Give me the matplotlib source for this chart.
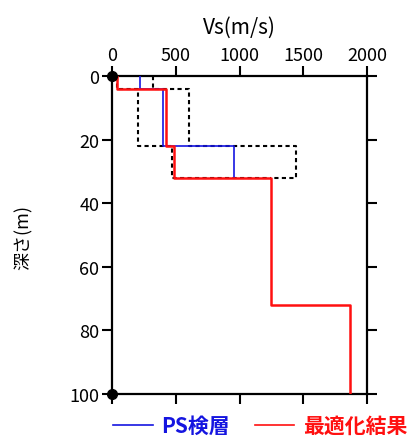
import matplotlib.pyplot as plt
from matplotlib.lines import Line2D

plt.rcParams['font.family'] = ['Noto Sans CJK JP', 'DejaVu Sans']

# layer boundaries (m) and Vs (m/s)
ps_depth = [0, 4, 22, 32]
ps_vs = [220, 400, 960]
opt_depth = [0, 4, 22, 32, 72, 100]
opt_vs = [40, 425, 485, 1250, 1870]
# search range (dotted), closes at 32 m onto the optimized layer
lim_depth = [0, 4, 22, 32]
lim_low = [40, 200, 470]
lim_high = [320, 600, 1440]

x_ticks = [0, 500, 1000, 1500, 2000]
y_ticks = [0, 20, 40, 60, 80, 100]


def stairs(depth, vs):
    xs, ys = [], []
    for i, v in enumerate(vs):
        xs += [v, v]
        ys += [depth[i], depth[i + 1]]
    return xs, ys


fig = plt.figure(figsize=(4.11, 4.39), dpi=100)
ax = fig.add_axes([0.2725, 0.1002, 0.6205, 0.7244])

for lim in (lim_low, lim_high):
    x, y = stairs(lim_depth, lim)
    x.append(opt_vs[3])
    y.append(lim_depth[-1])
    ax.plot(x, y, color='black', lw=1.5, ls=(0, (2, 1.6)), zorder=2)

x, y = stairs(ps_depth, ps_vs)
ax.plot(x, y, color='#1515e0', lw=1.2, zorder=3)
x, y = stairs(opt_depth, opt_vs)
ax.plot(x, y, color='#ff1010', lw=1.8, zorder=4)

# corner markers
ax.plot([0, 0], [0, 100], 'o', color='black', ms=7, clip_on=False, zorder=6)

ax.set_xlim(0, 2000)
ax.set_ylim(100, 0)
ax.set_xticks(x_ticks)
ax.set_yticks(y_ticks)
ax.tick_params(direction='out', length=7, width=1.5, labelsize=13,
               top=True, labeltop=True, bottom=True, labelbottom=False,
               right=True, labelright=False, pad=2)
ax.xaxis.set_label_position('top')
ax.set_xlabel('Vs(m/s)', fontsize=15, labelpad=9)
for s in ax.spines.values():
    s.set_linewidth(1.6)

fig.text(0.058, 0.46, '深さ(m)', rotation=90, fontsize=13, ha='center', va='center')

handles = [Line2D([], [], color='#1515e0', lw=1.2), Line2D([], [], color='#ff1010', lw=1.2)]
fig.legend(handles, ['PS検層', '最適化結果'], loc='center', bbox_to_anchor=(0.633, 0.028),
           ncol=2, frameon=False, prop={'size': 15, 'weight': 'bold'}, handlelength=1.9,
           handletextpad=0.4, columnspacing=1.2, labelcolor=['#1515e0', '#ff1010'],
           borderpad=0, borderaxespad=0)

fig.savefig('out.png', dpi=100)
